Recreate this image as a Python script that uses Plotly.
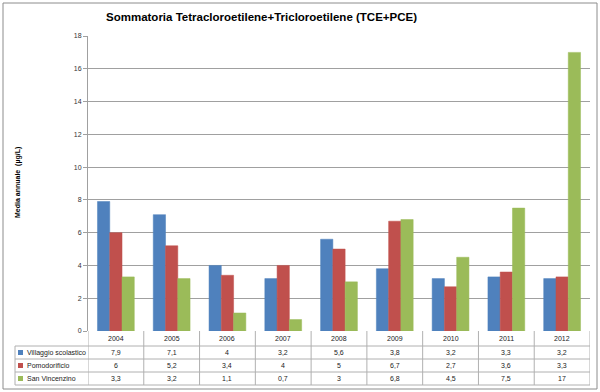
import plotly.graph_objects as go

years = ["2004", "2005", "2006", "2007", "2008", "2009", "2010", "2011", "2012"]
villaggio = [7.9, 7.1, 4, 3.2, 5.6, 3.8, 3.2, 3.3, 3.2]
pomodorificio = [6, 5.2, 3.4, 4, 5, 6.7, 2.7, 3.6, 3.3]
san_vincenzino = [3.3, 3.2, 1.1, 0.7, 3, 6.8, 4.5, 7.5, 17]
series_names = ["Villaggio scolastico", "Pomodorificio", "San Vincenzino"]
series_values = [villaggio, pomodorificio, san_vincenzino]
colors = ["#4F81BD", "#C0504D", "#9BBB59"]
y_ticks = [0, 2, 4, 6, 8, 10, 12, 14, 16, 18]

W, H = 600, 392
L, R, T, B = 88, 10, 36, 61
PW, PH = W - L - R, H - T - B

def px(xp):
    return (xp - L) / PW

def py(yp):
    return (H - B - yp) / PH

fig = go.Figure()
for name, vals, col in zip(series_names, series_values, colors):
    fig.add_trace(go.Bar(
        x=list(range(len(years))), y=vals, name=name,
        marker=dict(color=col, line=dict(color=col, width=0.5)),
        showlegend=False,
    ))

shapes = []
annotations = []
grid_col = "#A0A0A0"
tbl_col = "#B0B0B0"

row_lines = [346, 359, 372, 385]
for yl in row_lines:
    shapes.append(dict(type="line", xref="paper", yref="paper", x0=px(15), x1=1, y0=py(yl), y1=py(yl),
                       line=dict(color=tbl_col, width=1)))
shapes.append(dict(type="line", xref="paper", yref="paper", x0=px(15), x1=px(15), y0=py(346), y1=py(385),
                   line=dict(color=tbl_col, width=1)))
n = len(years)
for i in range(n + 1):
    shapes.append(dict(type="line", xref="x", yref="paper", x0=i - 0.5, x1=i - 0.5,
                       y0=0, y1=py(385), line=dict(color=tbl_col, width=1)))
shapes.append(dict(type="rect", xref="paper", yref="paper", x0=px(3), x1=px(597), y0=py(389), y1=py(3),
                   line=dict(color="#8C8C8C", width=1), layer="below"))

font_small = dict(family="Liberation Sans, Arial", size=7, color="#222222")

for i, yr in enumerate(years):
    annotations.append(dict(x=i, y=py(338.5), xref="x", yref="paper", text=yr, showarrow=False,
                            xanchor="center", yanchor="middle", font=font_small))
row_centers = [352.5, 365.5, 378.5]
for r, (name, vals, col) in enumerate(zip(series_names, series_values, colors)):
    yc = py(row_centers[r])
    for i, v in enumerate(vals):
        txt = ("%g" % v).replace(".", ",")
        annotations.append(dict(x=i, y=yc, xref="x", yref="paper", text=txt, showarrow=False,
                                xanchor="center", yanchor="middle", font=font_small))
    shapes.append(dict(type="rect", xref="paper", yref="paper", x0=px(18), x1=px(23),
                       y0=py(row_centers[r] + 2.5), y1=py(row_centers[r] - 2.5),
                       fillcolor=col, line=dict(width=0)))
    annotations.append(dict(x=px(25), y=yc, xref="paper", yref="paper", text=name, showarrow=False,
                            xanchor="left", yanchor="middle", font=font_small))

annotations.append(dict(x=px(261), y=py(17), xref="paper", yref="paper",
                        text="<b>Sommatoria Tetracloroetilene+Tricloroetilene (TCE+PCE)</b>",
                        showarrow=False, xanchor="center", yanchor="middle",
                        font=dict(family="Liberation Sans, Arial", size=11.5, color="#000000")))
annotations.append(dict(x=px(18), y=py(183), xref="paper", yref="paper", text="<b>Media annuale  (µg/L)</b>",
                        textangle=-90, showarrow=False, xanchor="center", yanchor="middle",
                        font=dict(family="Liberation Sans, Arial", size=7, color="#000000")))

fig.update_layout(
    width=W, height=H,
    margin=dict(l=L, r=R, t=T, b=B, pad=0),
    paper_bgcolor="white", plot_bgcolor="white",
    barmode="group", bargap=0.34, bargroupgap=0,
    shapes=shapes, annotations=annotations,
    xaxis=dict(range=[-0.5, n - 0.5], showticklabels=False, showgrid=False, zeroline=False,
               showline=False, ticks=""),
    yaxis=dict(range=[0, 18], tickvals=y_ticks, showgrid=True, gridcolor=grid_col, gridwidth=1,
               zeroline=False, showline=True, linecolor=grid_col, linewidth=1,
               ticks="outside", ticklen=4, tickcolor=grid_col,
               tickfont=dict(family="Liberation Sans, Arial", size=7, color="#333333")),
)

fig.write_html("out.html", config={"displayModeBar": False},
               post_script="document.body.style.margin='0px';")
